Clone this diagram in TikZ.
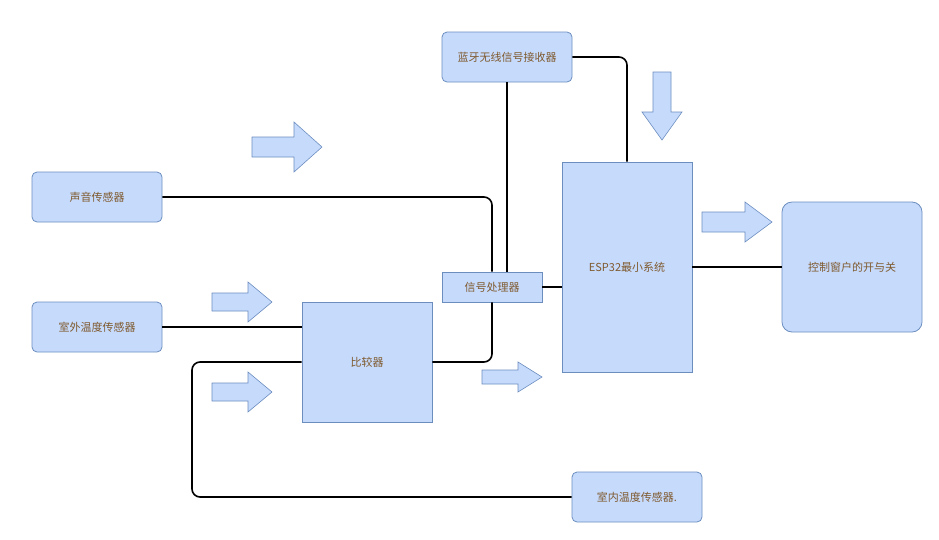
\documentclass[tikz,border=0pt]{standalone}
\usepackage{fontspec}
\setmainfont{Liberation Sans}
\newfontfamily\cjk{Noto Sans CJK SC}
\definecolor{fb}{HTML}{C6DAFC}
\definecolor{sb}{HTML}{6C8EBF}
\definecolor{tc}{HTML}{7F5A2E}
\tikzset{
  box/.style={draw=sb, fill=fb, line width=0.8pt, text=tc, font=\cjk\fontsize{11}{13}\selectfont, inner sep=0pt},
  rbox/.style={box, rounded corners=5pt},
  conn/.style={draw=black, line width=1.6pt, rounded corners=8pt},
  barrow/.style={draw=sb, fill=fb, line width=0.6pt, line join=miter}
}
\begin{document}
\begin{tikzpicture}[x=1pt,y=-1pt]
\useasboundingbox (0,0) rectangle (939,539);
% nodes
\node[rbox, minimum width=130pt, minimum height=50pt] (bt) at (507,57) {蓝牙无线信号接收器};
\node[rbox, minimum width=130pt, minimum height=50pt] (sound) at (97,197) {声音传感器};
\node[rbox, minimum width=130pt, minimum height=50pt] (outdoor) at (97,327) {室外温度传感器};
\node[box, minimum width=130pt, minimum height=120pt] (cmp) at (367,362) {比较器};
\node[box, minimum width=100pt, minimum height=30pt] (proc) at (492,287) {信号处理器};
\node[box, minimum width=130pt, minimum height=210pt] (esp) at (627,267) {ESP32最小系统};
\node[box, rounded corners=10pt, minimum width=140pt, minimum height=130pt] (ctrl) at (852,267) {控制窗户的开与关};
\node[rbox, minimum width=130pt, minimum height=50pt] (indoor) at (637,497) {室内温度传感器.};
\coordinate (lc) at (192,497);
% connectors
\draw[conn] (sound.east) -| (proc.north);
\draw[conn] (cmp.east) -| (proc.south);
\draw[conn] (bt.south) -- (bt.south |- proc.north);
\draw[conn] (bt.east) -| (esp.north);
\draw[conn] (proc.east) -- (proc.east -| esp.west);
\draw[conn] (esp.east) -- (ctrl.west);
\draw[conn] (outdoor.east) -- (outdoor.east -| cmp.west);
\draw[conn] (indoor.west) -- (lc) |- (cmp.west);
% block arrows
\draw[barrow] (252,137) -- (294,137) -- (294,122) -- (322,147) -- (294,172) -- (294,157) -- (252,157) -- cycle;
\draw[barrow] (212,293) -- (248,293) -- (248,282) -- (272,302) -- (248,322) -- (248,311) -- (212,311) -- cycle;
\draw[barrow] (212,383) -- (248,383) -- (248,372) -- (272,392) -- (248,412) -- (248,401) -- (212,401) -- cycle;
\draw[barrow] (482,370) -- (518,370) -- (518,362) -- (542,377) -- (518,392) -- (518,384) -- (482,384) -- cycle;
\draw[barrow] (702,212) -- (745,212) -- (745,202) -- (772,222) -- (745,242) -- (745,232) -- (702,232) -- cycle;
\draw[barrow] (653,72) -- (671,72) -- (671,112) -- (682,112) -- (662,140) -- (642,112) -- (653,112) -- cycle;
\end{tikzpicture}
\end{document}
